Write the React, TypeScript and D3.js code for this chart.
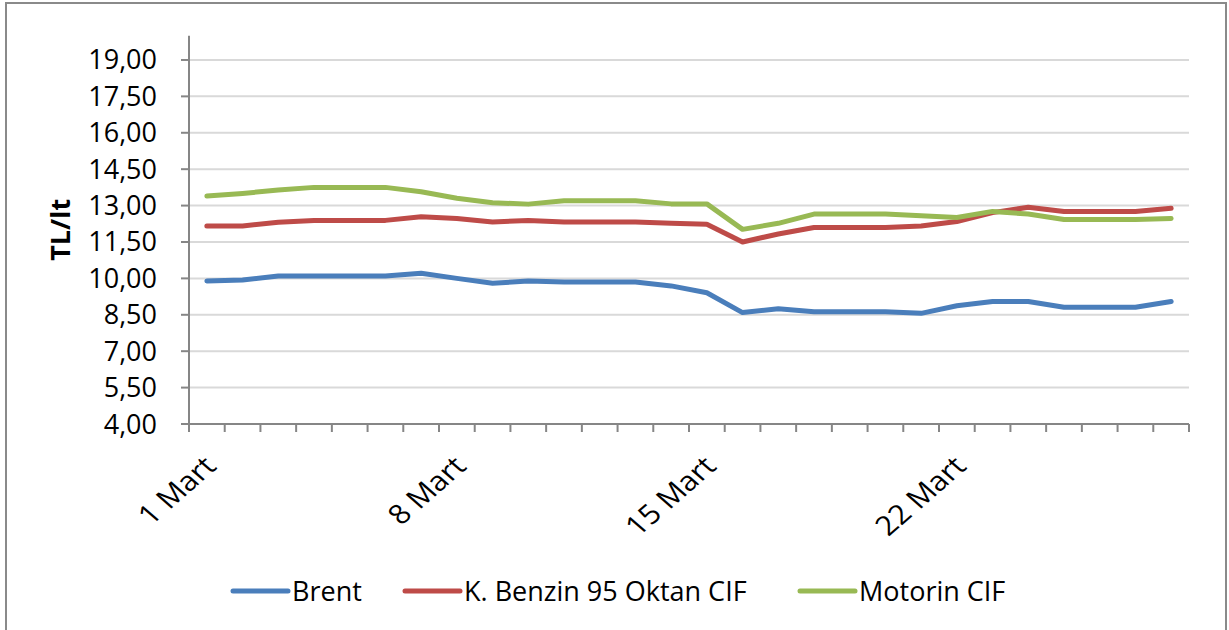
import React from 'react';
import * as d3 from 'd3';

// days of March shown on the x axis
const days = d3.range(1, 29).map((d) => `${d} Mart`);
const labelDays = ['1 Mart', '8 Mart', '15 Mart', '22 Mart'];

const brent = [
  9.89, 9.93, 10.1, 10.1, 10.1, 10.1, 10.21, 10.0, 9.8, 9.89, 9.85, 9.85, 9.85, 9.69,
  9.41, 8.59, 8.75, 8.63, 8.63, 8.63, 8.56, 8.87, 9.05, 9.05, 8.81, 8.81, 8.81, 9.05,
];
const benzin = [
  12.16, 12.16, 12.31, 12.39, 12.39, 12.39, 12.54, 12.47, 12.32, 12.39, 12.32, 12.32, 12.32, 12.27,
  12.23, 11.5, 11.83, 12.1, 12.1, 12.1, 12.16, 12.34, 12.71, 12.93, 12.76, 12.76, 12.76, 12.89,
];
const motorin = [
  13.39, 13.5, 13.64, 13.75, 13.75, 13.75, 13.57, 13.3, 13.12, 13.06, 13.2, 13.2, 13.2, 13.07,
  13.07, 12.02, 12.27, 12.65, 12.65, 12.65, 12.58, 12.51, 12.76, 12.65, 12.43, 12.43, 12.43, 12.47,
];
const yTicks = [4, 5.5, 7, 8.5, 10, 11.5, 13, 14.5, 16, 17.5, 19];

const series = [
  { name: 'Brent', values: brent, color: '#4A7EBB' },
  { name: 'K. Benzin 95 Oktan CIF', values: benzin, color: '#BE4B48' },
  { name: 'Motorin CIF', values: motorin, color: '#98B954' },
];

const W = 1229;
const H = 630;
const left = 189;
const right = 1189;
const top = 35.7;
const bottom = 424;
const font = '"Open Sans", sans-serif';

const fmt = (v: number) => v.toFixed(2).replace('.', ',');

export default function App() {
  const x = d3.scaleBand<string>().domain(days).range([left, right]).padding(0);
  const y = d3.scaleLinear().domain([4, 20]).range([bottom, top]);
  const cx = (d: string) => (x(d) as number) + x.bandwidth() / 2;

  const line = d3
    .line<number>()
    .x((_, i) => cx(days[i]))
    .y((v) => y(v));

  const legendPos = [233, 405, 800];

  return (
    <svg width={W} height={H} style={{ position: 'absolute', left: 0, top: 0 }}>
      <rect x={0} y={0} width={W} height={H} fill="#fff" />
      <rect x={6} y={3} width={1220} height={660} fill="none" stroke="#8a8a8a" strokeWidth={2} />

      {yTicks.slice(1).map((t) => (
        <line key={t} x1={left} x2={right} y1={y(t)} y2={y(t)} stroke="#d9d9d9" strokeWidth={2} />
      ))}

      <line x1={left} x2={left} y1={top} y2={bottom} stroke="#868686" strokeWidth={2} />
      {yTicks.map((t) => (
        <g key={t}>
          <line x1={181} x2={left} y1={y(t)} y2={y(t)} stroke="#868686" strokeWidth={2} />
          <text x={157} y={y(t) + 9.5} textAnchor="end" fontFamily={font} fontSize={27} fill="#000">
            {fmt(t)}
          </text>
        </g>
      ))}

      <line x1={left} x2={right} y1={bottom} y2={bottom} stroke="#868686" strokeWidth={2} />
      {days.map((d) => (
        <line key={d} x1={x(d)} x2={x(d)} y1={bottom} y2={bottom + 8} stroke="#868686" strokeWidth={2} />
      ))}
      <line x1={right} x2={right} y1={bottom} y2={bottom + 8} stroke="#868686" strokeWidth={2} />

      {labelDays.map((d) => (
        <text
          key={d}
          transform={`translate(${cx(d) + 11},468) scale(1.15,1) rotate(-45)`}
          textAnchor="end"
          fontFamily={font}
          fontSize={27}
          fill="#000"
        >
          {d}
        </text>
      ))}

      <text
        transform={`translate(70,${(top + bottom) / 2}) rotate(-90)`}
        textAnchor="middle"
        fontFamily={font}
        fontWeight="bold"
        fontSize={27}
        fill="#000"
      >
        TL/lt
      </text>

      {series.map((s) => (
        <path
          key={s.name}
          d={line(s.values) || ''}
          fill="none"
          stroke={s.color}
          strokeWidth={5}
          strokeLinejoin="round"
          strokeLinecap="round"
        />
      ))}

      {series.map((s, i) => (
        <g key={s.name} transform={`translate(${legendPos[i]},591)`}>
          <line x1={0} x2={55} y1={0} y2={0} stroke={s.color} strokeWidth={5} strokeLinecap="round" />
          <text x={59} y={9.5} fontFamily={font} fontSize={27} fill="#000">
            {s.name}
          </text>
        </g>
      ))}
    </svg>
  );
}
